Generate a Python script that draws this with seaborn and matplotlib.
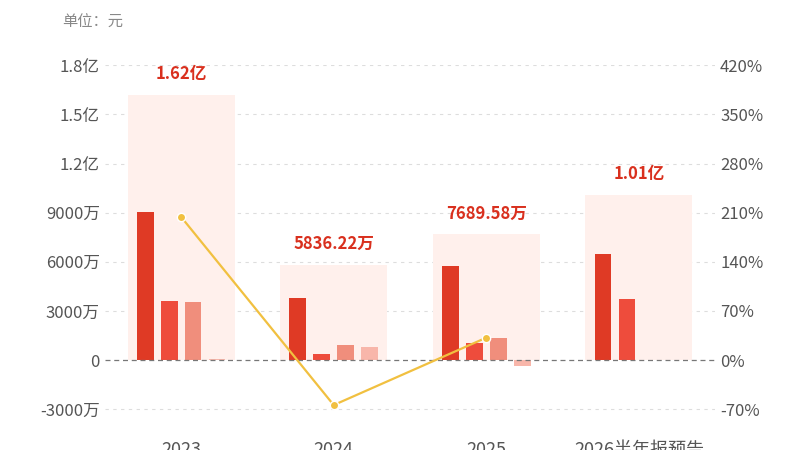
import matplotlib
matplotlib.use("Agg")
import matplotlib.pyplot as plt
import seaborn as sns
import numpy as np
import pandas as pd

categories = ["2023", "2024", "2025", "2026半年报预告"]
totals = [16200, 5836.22, 7689.58, 10100]
total_labels = ["1.62亿", "5836.22万", "7689.58万", "1.01亿"]
s1 = [9050, 3770, 5720, 6450]
s2 = [3590, 360, 1050, 3710]
s3 = [3560, 910, 1340, np.nan]
s4 = [50, 800, -330, np.nan]
growth = [204, -64, 32]
left_ticks = [-3000, 0, 3000, 6000, 9000, 12000, 15000, 18000]
left_labels = ["-3000万", "0", "3000万", "6000万", "9000万", "1.2亿", "1.5亿", "1.8亿"]
right_ticks = [-70, 0, 70, 140, 210, 280, 350, 420]

sns.set_theme(style="white")
plt.rcParams['font.family'] = ['Noto Sans CJK SC', 'DejaVu Sans']

fig = plt.figure(figsize=(8, 4.5), dpi=100)
ax = fig.add_axes([0.131, 0.045, 0.763, 0.81])
ylo, yhi = -4250, 18000
x = np.arange(len(categories))

df = pd.DataFrame({"cat": categories, "total": totals})
sns.barplot(data=df, x="cat", y="total", color="#FFF0EC", width=0.70, ax=ax,
            saturation=1, linewidth=0)

colors = ["#DF3A25", "#EE4C3C", "#F08E7C", "#F8B6AA"]
offs = [-0.235, -0.078, 0.078, 0.235]
for s, c, o in zip([s1, s2, s3, s4], colors, offs):
    ax.bar(x + o, s, width=0.11, color=c, linewidth=0, zorder=3)

for xi, t, lab in zip(x, totals, total_labels):
    ax.text(xi, t + 700, lab, ha="center", va="bottom", color="#D9301E",
            fontsize=12, fontweight="bold", zorder=5)

ax.set_xlim(-0.5, 3.5)
ax.set_ylim(ylo, yhi)
ax.set_yticks(left_ticks)
ax.set_yticklabels(left_labels)
for t in left_ticks:
    if t != 0:
        ax.axhline(t, color="#DDDDDD", ls=(0, (3, 4)), lw=0.8, zorder=0)
ax.axhline(0, color="#777777", ls=(0, (4, 3)), lw=0.9, zorder=4)
ax.set_xticks(x)
ax.set_xticklabels(categories)
ax.set_xlabel("")
ax.set_ylabel("")
ax.tick_params(axis="both", length=0, labelsize=12, colors="#555555")
ax.tick_params(axis="x", pad=8, labelsize=13)
for sp in ax.spines.values():
    sp.set_visible(False)

ax2 = ax.twinx()
scale = 70 / 3000
ax2.set_ylim(ylo * scale, yhi * scale)
ax2.plot(x[:3], growth, color="#F1C040", lw=1.6, marker="o", ms=6,
         markerfacecolor="#F1C040", markeredgecolor="white", markeredgewidth=1, zorder=6)
ax2.set_yticks(right_ticks)
ax2.set_yticklabels([f"{t}%" for t in right_ticks])
ax2.tick_params(axis="y", length=0, labelsize=12, colors="#555555")
for sp in ax2.spines.values():
    sp.set_visible(False)
ax2.grid(False)

fig.text(0.078, 0.95, "单位：元", fontsize=11, color="#888888", ha="left", va="center")
fig.savefig("out.png", dpi=100)
